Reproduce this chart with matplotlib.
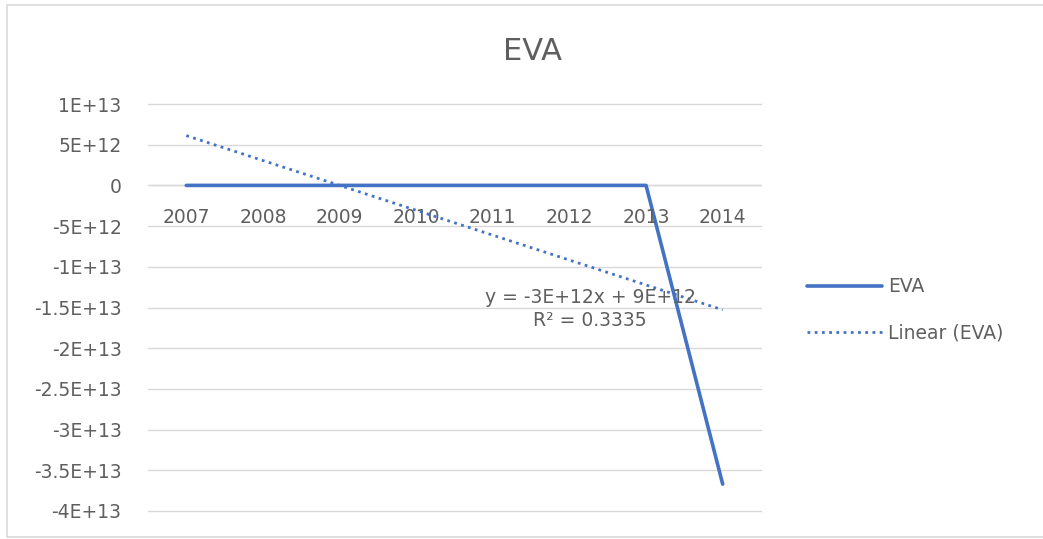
import matplotlib
matplotlib.use("Agg")
import matplotlib.pyplot as plt
from matplotlib.patches import Rectangle
import numpy as np

plt.rcParams["font.family"] = ["DejaVu Sans"]

# EVA by year
years = ["2007", "2008", "2009", "2010", "2011", "2012", "2013", "2014"]
eva = [0, 0, 0, 0, 0, 0, 0, -3.67e13]
yticks = [1e13, 5e12, 0, -5e12, -1e13, -1.5e13, -2e13, -2.5e13, -3e13, -3.5e13, -4e13]
ytick_labels = ["1E+13", "5E+12", "0", "-5E+12", "-1E+13", "-1.5E+13", "-2E+13",
                "-2.5E+13", "-3E+13", "-3.5E+13", "-4E+13"]
trend_label = "y = -3E+12x + 9E+12\nR² = 0.3335"

text_col = "#5f5f5f"
grid_col = "#D9D9D9"
line_col = "#4472C4"

fig = plt.figure(figsize=(10.43, 5.39), dpi=100)
ax = fig.add_axes([148 / 1043, 1 - 511 / 539, 613 / 1043, 407 / 539])

# chart area border
fig.patches.append(Rectangle((7 / 1043, 2 / 539), 1.2, 1 - 7 / 539, transform=fig.transFigure,
                             fill=False, edgecolor=grid_col, linewidth=1.2))

x = np.arange(1, len(years) + 1)

# linear trend (least squares on category index)
coef = np.polyfit(x, eva, 1)
trend = np.polyval(coef, x)

ax.plot(x, eva, color=line_col, linewidth=2.6, solid_capstyle="round", label="EVA", zorder=3)
ax.plot(x, trend, color=line_col, linewidth=2.0, linestyle=(0, (1, 1.6)),
        label="Linear (EVA)", zorder=4)

ax.set_xlim(0.5, len(years) + 0.5)
ax.set_ylim(-4e13, 1e13)
ax.set_yticks(yticks)
ax.set_yticklabels(ytick_labels)
ax.set_xticks([])
ax.grid(axis="y", color=grid_col, linewidth=1)
for gl in ax.get_ygridlines():
    gl.set_clip_on(False)
ax.set_axisbelow(True)
ax.axhline(0, color=grid_col, linewidth=1, zorder=1)
for s in ax.spines.values():
    s.set_visible(False)
ax.tick_params(axis="y", length=0, pad=19, labelsize=13.5, labelcolor=text_col)

# category labels sit just under the zero line
for xi, yr in zip(x, years):
    ax.annotate(yr, (xi, 0), xytext=(0, -23), textcoords="offset points",
                ha="center", va="center", fontsize=13.5, color=text_col)

fig.text(590 / 1043, 1 - 309 / 539, trend_label, ha="center", va="center",
         fontsize=13.5, color=text_col, linespacing=1.25)

fig.text(532 / 1043, 1 - 51 / 539, "EVA", ha="center", va="center", fontsize=22, color=text_col)

fig.legend(loc="center left", bbox_to_anchor=(790 / 1043, 1 - 310 / 539), frameon=False,
           fontsize=13.5, labelcolor=text_col, handlelength=4.0, handletextpad=0.35,
           labelspacing=1.45)

fig.savefig("out.png", dpi=100)
